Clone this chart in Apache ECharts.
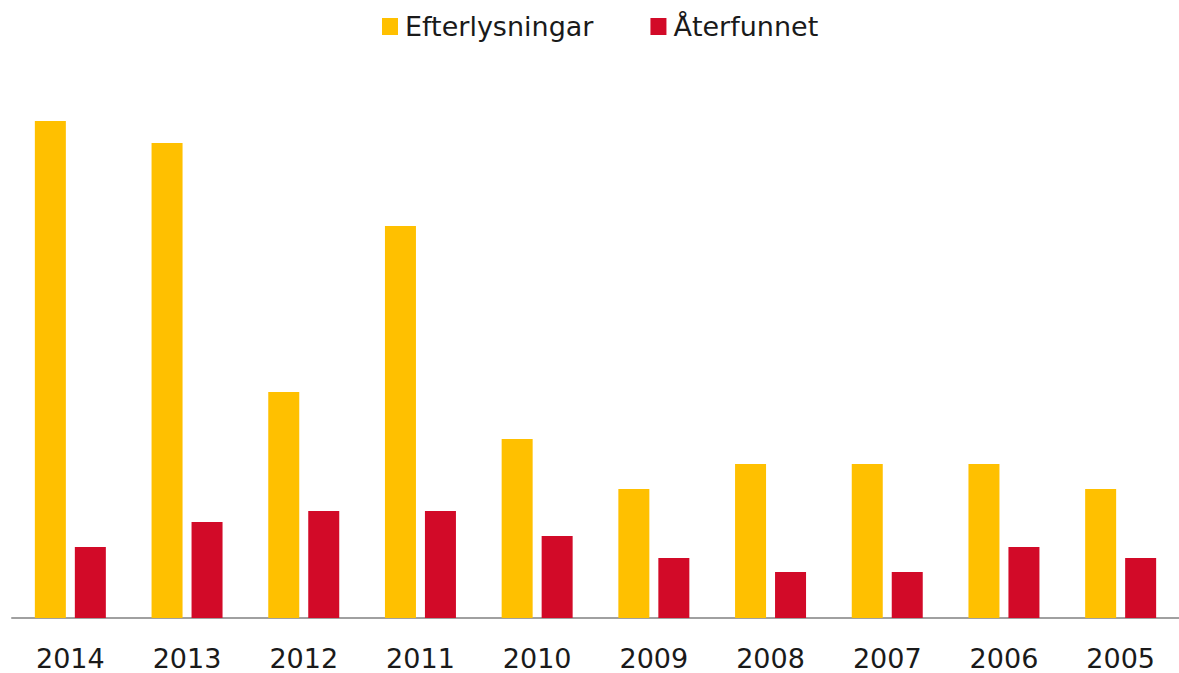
<!DOCTYPE html>
<html>
<head>
<meta charset="utf-8">
<script src="https://cdn.jsdelivr.net/npm/echarts@6/dist/echarts.min.js"></script>
<style>
  html, body { margin: 0; padding: 0; background: #fff; }
  #main { width: 1179px; height: 673px; }
</style>
</head>
<body>
<div id="main"></div>
<script>
const years = ['2014', '2013', '2012', '2011', '2010', '2009', '2008', '2007', '2006', '2005']
const efterlysningar = [497, 475, 226, 392, 179, 129, 154, 154, 154, 129]
const aterfunnet = [71, 96, 107, 107, 82, 60, 46, 46, 71, 60]

const chart = echarts.init(document.getElementById('main'), null, { renderer: 'svg' })

const font = 'DejaVu Sans'

chart.setOption({
  animation: false,
  legend: {
    left: 377,
    top: 8,
    itemWidth: 16,
    itemHeight: 17,
    itemGap: 57,
    icon: 'rect',
    textStyle: { fontFamily: font, fontSize: 27, color: '#1a1a1a', padding: [0, 0, 0, 2] },
    data: ['Efterlysningar', 'Återfunnet']
  },
  grid: { left: 12, top: 60, width: 1172, bottom: 55 },
  xAxis: {
    type: 'category',
    data: years,
    axisLine: { lineStyle: { color: '#a0a0a0', width: 2 } },
    axisTick: { show: false },
    axisLabel: { fontFamily: font, fontSize: 27, color: '#1a1a1a', margin: 27 }
  },
  yAxis: {
    type: 'value',
    min: 0,
    max: 558,
    show: false,
    splitLine: { show: false }
  },
  series: [
    {
      name: 'Efterlysningar',
      type: 'bar',
      data: efterlysningar,
      barWidth: 31,
      barGap: '29%',
      itemStyle: { color: '#ffc000' }
    },
    {
      name: 'Återfunnet',
      type: 'bar',
      data: aterfunnet,
      barWidth: 31,
      itemStyle: { color: '#d20a28' }
    }
  ]
})
</script>
</body>
</html>
